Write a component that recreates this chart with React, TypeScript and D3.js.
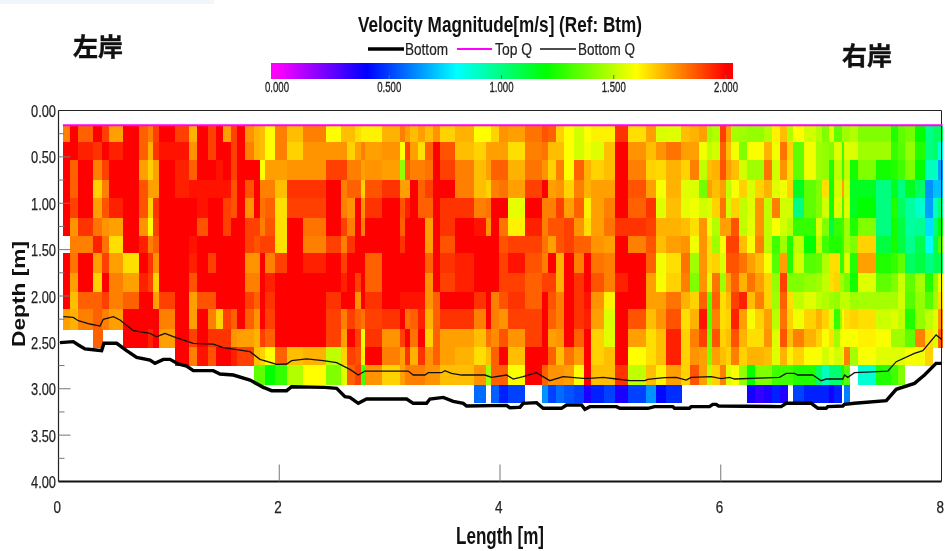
import React from "react";
import * as d3 from "d3";

// ---------- axis + legend values ----------
const depthTicks = [0, 0.5, 1, 1.5, 2, 2.5, 3, 3.5, 4];
const depthMinorTicks = [0.25, 0.75, 1.25, 1.75, 2.25, 2.75, 3.25, 3.75];
const lengthTicks = [0, 2, 4, 6, 8];
const legendTicks = [0, 0.5, 1, 1.5, 2];
const colorStops = [0, 0.4, 0.8, 1.2, 1.6, 2];
const colorNames = ["#ff00ff", "#0000ff", "#00ffff", "#00ff00", "#ffff00", "#ff0000"];

// ---------- ensemble edges, metres ----------
const columnEdges = [
  0.044, 0.104, 0.174, 0.316, 0.397, 0.457, 0.587, 0.729, 0.808, 0.859, 0.913, 1.058, 1.185, 1.258, 1.351,
  1.424, 1.493, 1.562, 1.62, 1.692, 1.774, 1.825, 1.87, 1.961, 2.07, 2.212, 2.423, 2.556, 2.61,
  2.686, 2.74, 2.776, 2.927, 3.094, 3.139, 3.184, 3.259, 3.32, 3.389, 3.456, 3.591, 3.764, 3.873, 3.918,
  3.99, 4.069, 4.226, 4.377, 4.437, 4.506, 4.579, 4.669, 4.763, 4.823, 4.944, 5.041, 5.162, 5.322,
  5.415, 5.506, 5.642, 5.723, 5.801, 5.877, 5.919, 5.989, 6.049, 6.094, 6.164, 6.236, 6.312, 6.39, 6.463,
  6.541, 6.602, 6.659, 6.753, 6.859, 6.919, 6.979, 7.025, 7.076, 7.097, 7.121, 7.17, 7.248, 7.405, 7.544,
  7.604, 7.67, 7.758, 7.849, 7.922, 7.967, 8.01,
];
// ---------- bin edges, metres ----------
const rowEdges = [0.164, 0.343, 0.534, 0.749, 0.94, 1.156, 1.35, 1.54, 1.755, 1.954, 2.143, 2.359, 2.553, 2.747, 2.96, 3.154];

// ---------- velocity magnitude, m/s ----------
const _ = null;
const row00 = [
  1.8, 2, 1.85, 2, 1.9, 1.75, 2, 1.85, 1.8, 1.9, 2, 1.9, 1.72, 2, 1.9, 2, 1.75, 1.9, 2, 1.77, 1.72, 1.7, 1.6, 1.8, 1.7, 1.8, 1.6, 1.7,
  1.7, 1.65, 1.62, 1.62, 1.72, 1.8, 1.75, 1.7, 1.75, 1.7, 1.77, 1.67, 1.72, 1.6, 1.6, 1.67, 1.77, 1.75, 1.82, 1.87, 1.85, 1.67, 1.6, 1.53, 1.6, 1.62, 1.62, 1.92, 1.65,
  1.75, 1.54, 1.55, 1.7, 1.72, 1.75, 1.45, 1.48, 1.9, 1.75, 1.46, 1.45, 1.43, 1.43, 1.48, 1.62, 1.7, 1.48, 1.6, 1.53, 1.48, 1.4, 1.55, 1.35, 1.35, 1.45, 1.45, 1.48, 1.4, 1.4, 1.25, 1.35, 1.38, 1.2, 0.99, 1.05, 1.05,
];
const row01 = [
  2, 2, 1.95, 1.92, 2, 1.95, 2, 1.85, 1.72, 1.92, 1.97, 1.97, 1.77, 2, 1.9, 2, 2, 1.9, 2, 1.8, 1.72, 1.7, 1.6, 1.8, 1.67, 1.77, 1.77, 1.77,
  1.67, 1.75, 1.8, 1.75, 1.77, 1.6, 1.9, 1.75, 1.65, 1.85, 2, 1.87, 1.7, 1.67, 1.75, 1.75, 1.75, 1.65, 1.8, 1.82, 1.7, 1.7, 1.6, 1.53, 1.58, 1.55, 1.7, 2, 1.77,
  1.7, 1.77, 1.82, 1.75, 1.75, 1.58, 1.5, 1.53, 1.85, 1.7, 1.58, 1.4, 1.59, 1.59, 1.72, 1.58, 1.82, 1.67, 1.35, 1.58, 1.45, 1.43, 1.4, 1.55, 1.55, 1.3, 1.55, 1.54, 1.45, 1.45, 1.28, 1.33, 1.43, 1.25, 1.0, 1.05, 0.85,
];
const row02 = [
  2, 1.85, 2, 1.8, 1.9, 2, 2, 1.75, 1.67, 1.75, 2, 1.95, 1.85, 2, 2, 1.97, 2, 1.9, 2, 2, 2, 1.6, 1.75, 1.75, 1.77, 1.77, 1.9, 1.9,
  1.8, 1.8, 1.75, 1.77, 1.75, 1.43, 1.85, 1.8, 1.8, 1.82, 2, 1.9, 1.8, 1.7, 1.75, 1.85, 1.85, 1.72, 1.82, 1.77, 1.67, 1.8, 1.6, 1.85, 1.72, 1.67, 1.7, 2, 1.8,
  1.67, 1.66, 1.72, 1.67, 1.8, 1.5, 1.7, 1.72, 1.87, 1.75, 1.7, 1.53, 1.45, 1.45, 1.82, 1.53, 1.77, 1.65, 1.35, 1.58, 1.45, 1.43, 1.25, 1.5, 1.5, 1.28, 1.5, 1.23, 1.4, 1.23, 1.25, 1.3, 1.4, 1.2, 0.9, 0.9, 0.65,
];
const row03 = [
  2, 1.85, 2, 1.67, 1.8, 2, 2, 1.87, 1.75, 1.75, 2, 1.95, 1.97, 1.97, 1.97, 1.97, 1.97, 1.87, 2, 1.87, 2, 1.8, 1.8, 1.7, 1.92, 1.92, 2, 1.8,
  1.85, 1.85, 1.67, 1.87, 1.92, 1.75, 1.75, 2, 1.85, 1.9, 2, 2, 1.8, 1.7, 1.67, 1.8, 1.82, 1.75, 1.9, 2, 1.75, 1.77, 1.67, 1.8, 1.72, 1.75, 1.75, 2, 1.87,
  1.75, 1.59, 1.72, 1.55, 1.54, 1.38, 1.75, 1.7, 1.75, 1.5, 1.59, 1.67, 1.54, 1.67, 1.72, 1.55, 1.58, 1.67, 1.15, 1.35, 1.4, 1.65, 1.23, 1.53, 1.53, 1.75, 1.53, 1.15, 1.15, 1.0, 1.15, 1.0, 1.15, 1.05, 0.63, 0.7, 0.7,
];
const row04 = [
  2, 1.9, 2, 1.75, 1.87, 1.95, 2, 1.87, 1.67, 1.92, 2, 2, 2, 1.97, 2, 2, 1.9, 1.87, 2, 1.77, 2, 1.82, 1.85, 1.65, 1.9, 1.9, 2, 1.8,
  1.77, 2, 1.77, 1.92, 2, 1.87, 1.95, 2, 1.85, 1.85, 2, 1.92, 1.92, 1.8, 1.82, 2, 2, 1.56, 2, 1.8, 1.8, 1.9, 1.75, 1.85, 1.62, 1.75, 1.8, 2, 1.85,
  1.92, 1.55, 1.7, 1.56, 1.58, 1.53, 1.54, 1.67, 1.82, 1.53, 1.67, 1.5, 1.55, 1.77, 1.5, 1.8, 1.53, 1.53, 1.0, 1.35, 1.4, 1.53, 1.23, 1.55, 1.55, 1.3, 1.55, 1.15, 1.2, 1.0, 1.25, 1.05, 0.95, 0.88, 0.65, 0.9, 1.0,
];
const row05 = [
  2, 1.77, 1.92, 1.82, 1.77, 1.75, 2, 1.77, 1.6, 1.9, 2, 2, 2, 1.87, 2, 2, 1.9, 2, 2, 1.9, 1.9, 1.8, 1.87, 1.65, 2, 1.82, 2, 1.9,
  1.8, 2, 1.8, 2, 2, 1.85, 2, 2, 2, 1.75, 2, 1.92, 2, 1.97, 1.77, 2, 1.82, 1.62, 1.95, 1.8, 1.87, 1.87, 1.9, 1.77, 1.65, 1.75, 1.82, 1.92, 1.92,
  1.9, 1.72, 1.72, 1.7, 1.65, 1.77, 1.58, 1.48, 1.75, 1.75, 1.87, 1.5, 1.56, 1.77, 1.5, 1.59, 1.53, 1.48, 1.28, 1.28, 1.55, 1.4, 1.1, 1.28, 1.28, 1.3, 1.45, 1.25, 1.4, 1.0, 1.23, 1.1, 0.95, 0.97, 0.75, 1.02, 1.18,
];
const row06 = [
  _, 1.8, 1.8, 1.95, 1.82, 1.65, 2, 1.95, 1.8, 1.85, 2, 2, 1.97, 2, 2, 2, 2, 2, 2, 1.9, 1.87, 1.9, 1.9, 1.65, 2, 1.8, 1.9, 1.8,
  1.92, 2, 2, 2, 2, 1.92, 2, 2, 2, 1.75, 2, 1.87, 2, 2, 2, 2, 1.87, 1.9, 1.9, 1.82, 1.75, 1.87, 1.9, 1.85, 1.85, 1.77, 1.75, 2, 1.8,
  1.87, 1.7, 1.75, 1.77, 1.58, 1.77, 1.65, 1.45, 1.59, 1.9, 1.9, 1.7, 1.59, 1.8, 1.5, 1.3, 1.45, 1.25, 1.5, 1.2, 1.5, 1.3, 1.25, 1.25, 1.25, 1.3, 1.45, 1.4, 1.67, 1.1, 1.23, 1.1, 0.98, 1.08, 0.82, 1.08, 1.33,
];
const row07 = [
  2, 1.82, 2, 1.75, 1.9, 1.75, 1.65, 2, 1.92, 1.77, 2, 2, 1.95, 2, 1.9, 2, 2, 2, 2, 1.77, 1.77, 2, 1.8, 1.9, 2, 1.95, 2, 1.9,
  2, 2, 2, 1.85, 2, 2, 2, 2, 2, 1.85, 2, 1.92, 1.95, 2, 2, 2, 1.9, 1.97, 1.87, 1.8, 2, 1.72, 2, 1.8, 2, 1.82, 1.8, 2, 2,
  1.85, 1.58, 1.65, 1.82, 1.45, 1.77, 1.65, 1.67, 1.54, 1.87, 1.87, 1.82, 1.75, 1.7, 1.59, 1.33, 1.75, 1.25, 1.53, 1.33, 1.35, 1.48, 1.65, 1.65, 1.28, 1.28, 1.55, 1.25, 1.75, 1.25, 1.28, 1.35, 1.05, 1.1, 1.0, 1.07, 1.07,
];
const row08 = [
  2, 1.75, 2, 1.67, 2, 1.8, 1.75, 1.95, 1.9, 1.67, 2, 2, 1.87, 2, 2, 2, 2, 2, 2, 1.8, 1.8, 2, 1.95, 2, 2, 2, 2, 1.95,
  2, 1.9, 2, 1.85, 2, 2, 2, 2, 2, 1.77, 2, 1.9, 1.95, 2, 2, 2, 1.9, 1.9, 1.85, 1.9, 1.9, 1.72, 2, 1.92, 2, 1.87, 1.8, 1.95, 2,
  1.75, 1.59, 1.67, 1.8, 1.4, 1.77, 1.55, 1.82, 1.45, 1.75, 1.85, 1.72, 1.82, 1.75, 1.67, 1.43, 1.9, 1.4, 1.4, 1.43, 1.45, 1.5, 1.65, 1.67, 1.45, 1.45, 1.38, 1.23, 1.55, 1.35, 1.4, 1.52, 1.35, 1.46, 1.25, 1.43, 1.58,
];
const row09 = [
  2, 1.7, 1.85, 1.85, 1.9, 1.8, 1.85, 2, 2, 1.75, 1.9, 2, 1.75, 1.87, 1.87, 2, 2, 2, 2, 1.9, 1.85, 2, 1.92, 2, 2, 2, 1.92, 2,
  2, 1.77, 2, 1.92, 2, 1.97, 1.97, 1.97, 1.97, 1.77, 1.85, 2, 2, 1.92, 2, 1.8, 1.87, 1.92, 1.85, 2, 1.87, 1.8, 2, 1.92, 1.97, 1.77, 1.62, 2, 2,
  1.75, 1.75, 1.82, 1.72, 1.67, 1.85, 1.35, 1.85, 1.65, 1.7, 1.9, 1.95, 1.7, 1.8, 1.67, 1.45, 1.85, 1.65, 1.5, 1.55, 1.5, 1.48, 1.45, 1.43, 1.5, 1.5, 1.5, 1.45, 1.46, 1.46, 1.46, 1.53, 1.33, 1.43, 1.33, 1.45, 1.65,
];
const row10 = [
  1.75, 1.72, 1.8, 1.85, 1.8, 1.75, 2, 2, 2, 2, 1.8, 2, 1.75, 2, 1.8, 1.67, 1.9, 1.85, 2, 1.85, 1.77, 2, 1.9, 2, 2, 2, 1.9, 1.8,
  1.9, 1.85, 1.82, 1.9, 1.92, 2, 1.82, 1.85, 1.95, 1.72, 1.85, 1.92, 1.92, 1.8, 2, 1.8, 1.77, 1.9, 1.9, 2, 1.85, 1.8, 2, 1.92, 1.95, 1.75, 1.54, 2, 1.87,
  1.7, 1.77, 1.87, 1.65, 1.72, 1.97, 1.33, 1.8, 1.65, 1.67, 1.95, 1.75, 1.59, 1.67, 1.75, 1.49, 1.82, 1.67, 1.58, 1.67, 1.72, 1.67, 1.55, 1.28, 1.45, 1.58, 1.65, 1.67, 1.65, 1.52, 1.55, 1.5, 1.25, 1.43, 1.5, 1.55, 1.77,
];
const row11 = [
  _, _, _, 1.85, _, _, 2, 2, 1.95, 2, 1.75, 2, 1.9, 2, 1.92, 1.92, 1.92, 1.77, 1.75, 1.75, 1.72, 1.9, 1.85, 2, 2, 2, 1.9, 1.75,
  2, 1.9, 1.58, 1.92, 1.77, 1.9, 2, 1.82, 2, 1.67, 1.85, 1.75, 1.75, 1.7, 1.82, 1.78, 1.87, 1.77, 1.9, 2, 1.75, 1.77, 2, 1.85, 2, 1.67, 1.55, 2, 1.75,
  1.65, 1.7, 1.95, 1.67, 1.8, 1.9, 1.38, 1.87, 1.67, 1.7, 1.87, 1.72, 1.65, 1.65, 1.77, 1.55, 1.87, 1.7, 1.8, 1.72, 1.67, 1.59, 1.65, 1.45, 1.58, 1.59, 1.59, 1.59, 1.62, 1.59, 1.45, 1.45, 1.35, 1.8, 1.65, 1.55, 1.85,
];
const row12 = [
  _, _, _, _, _, _, _, _, _, _, _, 2, 1.8, 1.97, 1.87, 2, 2, 1.95, 1.9, 1.9, 1.7, 1.67, 1.6, 1.85, 1.7, 1.72, 1.5, 1.67,
  1.9, 1.87, 1.62, 2, 1.8, 1.75, 1.92, 1.72, 1.92, 1.77, 1.85, 1.75, 1.72, 1.65, 1.7, 1.85, 2, 1.7, 2, 2, 1.85, 1.7, 1.82, 1.75, 2, 1.67, 1.7, 2, 1.6,
  1.65, 1.7, 1.95, 1.67, 1.77, 1.75, 1.4, 1.75, 1.7, 1.67, 1.8, 1.67, 1.72, 1.72, 1.7, 1.55, 1.72, 1.62, 1.67, 1.59, 1.59, 1.53, 1.58, 1.53, 1.53, 1.55, 1.8, 1.46, 1.59, 1.55, 1.55, 1.55, 1.59, 1.58, 1.67, _, _,
];
const row13 = [
  _, _, _, _, _, _, _, _, _, _, _, _, _, _, _, _, _, _, _, _, 1.35, 1.35, 1.2, 1.28, 1.48, 1.6, 1.4, 1.55,
  1.85, 1.9, 1.3, 1.77, 1.67, 1.75, 1.8, 1.8, 1.8, 1.77, 1.77, 1.7, 1.7, 1.77, 1.45, 1.85, 1.85, 1.59, 2, 1.85, 1.77, 1.77, 1.75, 1.6, 2, 1.7, 1.7, 1.92, 1.5,
  1.7, 1.62, 1.75, 1.67, 1.87, 1.75, 1.5, 1.67, 1.8, 1.55, 1.59, 1.43, 1.2, 1.4, 1.4, 1.3, 1.3, 1.3, 1.25, 1.25, 1.05, 0.9, 1.02, 1.02, 1.02, 1.25, 1.33, _, 0.87, 1.25, 1.3, 1.4, _, _, _, _, _,
];
const row14 = [
  _, _, _, _, _, _, _, _, _, _, _, _, _, _, _, _, _, _, _, _, _, _, _, _, _, _, _, _,
  _, _, _, _, _, _, _, _, _, _, _, _, _, 0.57, _, 0.55, 0.45, 0.5, _, 0.63, 0.5, 0.57, 0.53, 0.5, 0.36, 0.45, 0.5, 0.36, 0.5,
  0.63, 0.41, 0.47, _, _, _, _, _, _, _, _, _, 0.37, 0.32, 0.35, 0.45, 0.35, _, 0.5, 0.45, 0.45, 0.45, 0.37, 0.45, 0.45, _, 0.6, _, _, _, _, _, _, _, _, _, _,
];
const velocityRows = [row00, row01, row02, row03, row04, row05, row06, row07, row08, row09, row10, row11, row12, row13, row14];

// ---------- boundary lines ----------
const bottomLength = [
  0.014, 0.134, 0.18, 0.24, 0.315, 0.391, 0.412, 0.527, 0.617, 0.708, 0.829, 0.874, 0.95, 1.01, 1.085, 1.161, 1.221, 1.402, 1.463, 1.584, 1.735, 1.855, 1.931, 2.067, 2.112, 2.414, 2.52, 2.595, 2.64,
  2.716, 2.791, 3.154, 3.214, 3.335, 3.365, 3.486, 3.576, 3.667, 3.697, 4.059, 4.089, 4.18, 4.21, 4.331, 4.391, 4.557, 4.603, 4.739, 4.769, 4.814, 5.056, 5.086,
  5.34, 5.4, 5.566, 5.581, 5.717, 5.732, 5.898, 5.928, 5.958, 5.98, 6.547, 6.593, 6.82, 6.88, 6.955, 6.97, 7.106, 7.121, 7.212, 7.5, 7.59, 7.755, 7.846, 7.951, 8.0,
];
const bottomDepth = [
  2.503, 2.492, 2.528, 2.571, 2.579, 2.589, 2.51, 2.51, 2.589, 2.661, 2.69, 2.726, 2.683, 2.683, 2.733, 2.755, 2.805, 2.805, 2.841, 2.852, 2.906, 2.985, 3.021, 3.021, 2.978, 2.985, 2.996, 3.086, 3.093,
  3.157, 3.111, 3.111, 3.157, 3.157, 3.111, 3.093, 3.136, 3.157, 3.186, 3.179, 3.204, 3.2, 3.157, 3.15, 3.211, 3.211, 3.175, 3.175, 3.222, 3.193, 3.193, 3.211,
  3.211, 3.193, 3.193, 3.211, 3.211, 3.193, 3.193, 3.168, 3.168, 3.186, 3.193, 3.157, 3.157, 3.211, 3.211, 3.193, 3.186, 3.168, 3.157, 3.128, 3.006, 2.942, 2.852, 2.726, 2.726,
];
const bottomQLength = [
  0.044, 0.134, 0.18, 0.285, 0.376, 0.406, 0.497, 0.557, 0.678, 0.829, 0.889, 0.965, 1.04, 1.221, 1.402, 1.493, 1.735, 1.825, 1.976, 2.067, 2.112, 2.248, 2.399, 2.52, 2.64,
  2.716, 2.776, 3.169, 3.214, 3.32, 3.35, 3.471, 3.501, 3.561, 3.652, 3.863, 3.923, 4.059, 4.12, 4.21, 4.331, 4.451, 4.572, 4.753, 4.814, 4.935, 5.056, 5.176, 5.312,
  5.34, 5.49, 5.596, 5.687, 5.732, 5.913, 6.004, 6.079, 6.125, 6.532, 6.593, 6.668, 6.698, 6.834, 6.91, 6.955, 7.106, 7.121, 7.151, 7.212, 7.514, 7.59, 7.755, 7.831, 7.951, 8.0,
];
const bottomQDepth = [
  2.223, 2.23, 2.266, 2.302, 2.324, 2.251, 2.223, 2.259, 2.374, 2.403, 2.439, 2.403, 2.439, 2.511, 2.518, 2.557, 2.6, 2.683, 2.737, 2.733, 2.697, 2.679, 2.697, 2.719, 2.791,
  2.852, 2.809, 2.809, 2.852, 2.852, 2.827, 2.827, 2.805, 2.834, 2.852, 2.852, 2.877, 2.852, 2.895, 2.87, 2.827, 2.913, 2.87, 2.888, 2.888, 2.877, 2.895, 2.913, 2.913,
  2.9, 2.881, 2.877, 2.906, 2.877, 2.87, 2.891, 2.877, 2.895, 2.877, 2.834, 2.834, 2.852, 2.852, 2.913, 2.895, 2.895, 2.852, 2.877, 2.827, 2.809, 2.708, 2.618, 2.589, 2.42, 2.467,
];
const topQLength = [0.04, 8.01];
const topQDepth = [0.16, 0.16];

const NARROW = "'Liberation Sans Narrow', 'Liberation Sans', sans-serif";
const CJK = "'Noto Sans CJK SC', sans-serif";

export default function App() {
  const x = d3.scaleLinear().domain([0, 8]).range([58.5, 941.5]);
  const y = d3.scaleLinear().domain([0, 4]).range([110.5, 481.5]);
  const color = d3.scaleLinear<string>().domain(colorStops).range(colorNames).clamp(true);
  const legendX = d3.scaleLinear().domain([0, 2]).range([277, 726]);
  const legendLeft = 271;
  const legendRight = 733;

  const line = d3.line<number>().curve(d3.curveLinear);
  const path = (ls: number[], ds: number[]) => line(ls.map((l, i) => [x(l), y(ds[i])] as any) as any) || "";

  return (
    <svg
      width={948}
      height={551}
      viewBox="0 0 948 551"
      style={{ position: "absolute", left: 0, top: 0, background: "#fff", display: "block" }}
    >
      <defs>
        <linearGradient id="velocityGradient" x1="0" x2="1" y1="0" y2="0">
          {colorStops.map((v, i) => (
            <stop
              key={v}
              offset={(legendX(v) - legendLeft) / (legendRight - legendLeft)}
              stopColor={colorNames[i]}
            />
          ))}
        </linearGradient>
        <filter id="soft" x="0" y="0" width="948" height="551" filterUnits="userSpaceOnUse" colorInterpolationFilters="sRGB">
          <feGaussianBlur stdDeviation="0.45" />
        </filter>
      </defs>

      <rect x={0} y={0} width={214} height={4} fill="#f1f5fc" />

      <g filter="url(#soft)">
        {/* heat map */}
        <g shapeRendering="crispEdges">
          {velocityRows.map((row, r) =>
            row.map((v, c) =>
              v === null ? null : (
                <rect
                  key={`${r}-${c}`}
                  x={x(columnEdges[c])}
                  y={y(rowEdges[r])}
                  width={x(columnEdges[c + 1]) - x(columnEdges[c]) + 0.4}
                  height={y(rowEdges[r + 1]) - y(rowEdges[r]) + 0.4}
                  fill={color(v)}
                />
              )
            )
          )}
        </g>

        {/* plot frame */}
        <line x1={x(0)} x2={x(8)} y1={y(0)} y2={y(0)} stroke="#222" strokeWidth={1} />
        <line x1={x(0)} x2={x(0)} y1={y(0)} y2={y(4)} stroke="#222" strokeWidth={1.2} />
        <line x1={x(8)} x2={x(8)} y1={y(0)} y2={y(4)} stroke="#222" strokeWidth={1} />
        <line x1={x(0)} x2={x(8)} y1={y(4)} y2={y(4)} stroke="#111" strokeWidth={2} />

        {/* depth axis */}
        {depthTicks.map((d) => (
          <g key={d}>
            {d > 0 && d < 4 && <line x1={x(0)} x2={x(0) + 12} y1={y(d)} y2={y(d)} stroke="#777" strokeWidth={1} />}
            <text
              x={56}
              y={y(d) + 6.5}
              textAnchor="end"
              fontFamily={NARROW}
              fontSize={17}
              fill="#222"
              stroke="#222"
              strokeWidth={0.25}
              textLength={25}
              lengthAdjust="spacingAndGlyphs"
            >
              {d.toFixed(2)}
            </text>
          </g>
        ))}
        {depthMinorTicks.map((d) => (
          <line key={d} x1={x(0)} x2={x(0) + 6} y1={y(d)} y2={y(d)} stroke="#777" strokeWidth={1} />
        ))}

        {/* length axis */}
        {lengthTicks.map((l) => (
          <g key={l}>
            {l > 0 && l < 8 && <line x1={x(l)} x2={x(l)} y1={y(4) - 17} y2={y(4)} stroke="#777" strokeWidth={1} />}
            <text
              x={x(l) - 5}
              y={513}
              fontFamily={NARROW}
              fontSize={17}
              fill="#222"
              stroke="#222"
              strokeWidth={0.25}
              textLength={7.5}
              lengthAdjust="spacingAndGlyphs"
            >
              {l}
            </text>
          </g>
        ))}

        {/* boundary lines */}
        <path d={path(topQLength, topQDepth)} fill="none" stroke="#ff00ff" strokeWidth={2} />
        <path d={path(bottomQLength, bottomQDepth)} fill="none" stroke="#111" strokeWidth={1.3} />
        <path d={path(bottomLength, bottomDepth)} fill="none" stroke="#000" strokeWidth={3.4} />

        {/* title and legend */}
        <text
          x={500}
          y={32}
          textAnchor="middle"
          fontFamily={NARROW}
          fontWeight="bold"
          fontSize={22}
          fill="#111"
          textLength={284}
          lengthAdjust="spacingAndGlyphs"
        >
          Velocity Magnitude[m/s] (Ref: Btm)
        </text>

        <line x1={368} x2={404} y1={49} y2={49} stroke="#000" strokeWidth={3.4} />
        <text x={405} y={55} fontFamily={NARROW} fontSize={17} fill="#222" stroke="#222" strokeWidth={0.2} textLength={43} lengthAdjust="spacingAndGlyphs">
          Bottom
        </text>
        <line x1={457} x2={492} y1={49} y2={49} stroke="#ff00ff" strokeWidth={2} />
        <text x={495} y={55} fontFamily={NARROW} fontSize={17} fill="#222" stroke="#222" strokeWidth={0.2} textLength={37} lengthAdjust="spacingAndGlyphs">
          Top Q
        </text>
        <line x1={540} x2={576} y1={49} y2={49} stroke="#111" strokeWidth={1.5} />
        <text x={578} y={55} fontFamily={NARROW} fontSize={17} fill="#222" stroke="#222" strokeWidth={0.2} textLength={57} lengthAdjust="spacingAndGlyphs">
          Bottom Q
        </text>

        <rect x={legendLeft} y={63} width={legendRight - legendLeft} height={16} fill="url(#velocityGradient)" />
        {legendTicks.map((v) => (
          <g key={v}>
            <line x1={legendX(v)} x2={legendX(v)} y1={75} y2={79} stroke="#666" strokeWidth={1} />
            <text
              x={legendX(v)}
              y={92}
              textAnchor="middle"
              fontFamily={NARROW}
              fontSize={15}
              fill="#222"
              stroke="#222"
              strokeWidth={0.35}
              textLength={24}
              lengthAdjust="spacingAndGlyphs"
            >
              {v.toFixed(3)}
            </text>
          </g>
        ))}

        {/* bank labels */}
        <text x={73} y={56} fontFamily={CJK} fontWeight="bold" fontSize={25} fill="#111" stroke="#111" strokeWidth={0.4}>
          左岸
        </text>
        <text x={842} y={65} fontFamily={CJK} fontWeight="bold" fontSize={25} fill="#111" stroke="#111" strokeWidth={0.4}>
          右岸
        </text>

        {/* axis titles */}
        <text
          transform="translate(25,294) rotate(-90)"
          textAnchor="middle"
          fontFamily={NARROW}
          fontWeight="bold"
          fontSize={18}
          fill="#111"
          textLength={106}
          lengthAdjust="spacingAndGlyphs"
        >
          Depth [m]
        </text>
        <text
          x={500}
          y={544}
          textAnchor="middle"
          fontFamily={NARROW}
          fontWeight="bold"
          fontSize={24}
          fill="#111"
          textLength={88}
          lengthAdjust="spacingAndGlyphs"
        >
          Length [m]
        </text>
      </g>
    </svg>
  );
}
